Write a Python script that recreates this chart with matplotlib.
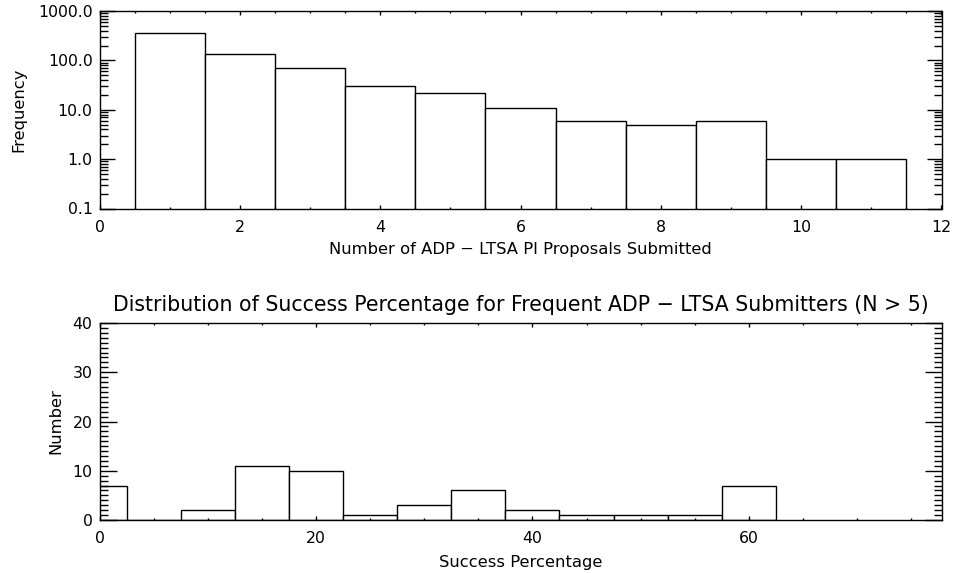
import numpy as np
import matplotlib
matplotlib.use("Agg")
import matplotlib.pyplot as plt
from matplotlib.ticker import MultipleLocator, LogLocator, FuncFormatter, NullFormatter

# ---- data ----
n_proposals = [1, 2, 3, 4, 5, 6, 7, 8, 9, 10, 11]
frequency = [365, 136, 70, 30, 22, 11, 6, 5, 6, 1, 1]

success_bins = [0, 5, 10, 15, 20, 25, 30, 35, 40, 45, 50, 55, 60]
success_counts = [7, 0, 2, 11, 10, 1, 3, 6, 2, 1, 1, 1, 7]

top_xlabel = "Number of ADP \u2212 LTSA PI Proposals Submitted"
top_ylabel = "Frequency"
bot_title = "Distribution of Success Percentage for Frequent ADP \u2212 LTSA Submitters (N > 5)"
bot_xlabel = "Success Percentage"
bot_ylabel = "Number"

plt.rcParams['font.family'] = ['DejaVu Sans']
FS = 11.3
LFS = 11.8
TFS = 14.8
fig = plt.figure(figsize=(9.56, 5.73), dpi=100)
fig.patch.set_facecolor('white')

W, H = 956, 573
def rect(l, t, r, b):
    return [l / W, 1 - b / H, (r - l) / W, (b - t) / H]

ax1 = fig.add_axes(rect(99.5, 11, 941.5, 208.5))
ax2 = fig.add_axes(rect(99.5, 323, 941.5, 520))

for ax in (ax1, ax2):
    for s in ax.spines.values():
        s.set_linewidth(1.0)
        s.set_color('black')

# top panel
ax1.bar(n_proposals, frequency, width=1.0, align='center', facecolor='white',
        edgecolor='black', linewidth=1.0)
ax1.set_yscale('log')
ax1.set_ylim(0.1, 1000)
ax1.set_xlim(0, 12)
ax1.xaxis.set_major_locator(MultipleLocator(2))
ax1.xaxis.set_minor_locator(MultipleLocator(0.5))
ax1.yaxis.set_major_locator(LogLocator(base=10, numticks=10))
ax1.yaxis.set_minor_locator(LogLocator(base=10, subs=np.arange(2, 10), numticks=20))
ax1.yaxis.set_major_formatter(FuncFormatter(lambda v, p: "%.1f" % v))
ax1.yaxis.set_minor_formatter(NullFormatter())
ax1.tick_params(axis='x', which='major', direction='in', length=3, width=1,
                top=True, bottom=True, labelsize=FS, pad=8)
ax1.tick_params(axis='x', which='minor', direction='in', length=1.5, width=1,
                top=True, bottom=True)
ax1.tick_params(axis='y', which='major', direction='in', length=11, width=1,
                left=True, right=True, labelsize=FS, pad=5)
ax1.tick_params(axis='y', which='minor', direction='in', length=5.5, width=1,
                left=True, right=True)
ax1.set_xlabel(top_xlabel, fontsize=LFS, labelpad=5.5)
ax1.set_ylabel(top_ylabel, fontsize=LFS, labelpad=8)

# bottom panel
ax2.bar(success_bins, success_counts, width=5.0, align='center', facecolor='white',
        edgecolor='black', linewidth=1.0)
ax2.set_xlim(0, 77.8)
ax2.set_ylim(0, 40)
ax2.xaxis.set_major_locator(MultipleLocator(20))
ax2.xaxis.set_minor_locator(MultipleLocator(5))
ax2.yaxis.set_major_locator(MultipleLocator(10))
ax2.yaxis.set_minor_locator(MultipleLocator(1))
ax2.tick_params(axis='x', which='major', direction='in', length=3, width=1,
                top=True, bottom=True, labelsize=FS, pad=8)
ax2.tick_params(axis='x', which='minor', direction='in', length=1.5, width=1,
                top=True, bottom=True)
ax2.tick_params(axis='y', which='major', direction='in', length=12, width=1,
                left=True, right=True, labelsize=FS, pad=5)
ax2.tick_params(axis='y', which='minor', direction='in', length=6, width=1,
                left=True, right=True)
ax2.set_xlabel(bot_xlabel, fontsize=LFS, labelpad=6.5)
ax2.set_ylabel(bot_ylabel, fontsize=LFS, labelpad=6.5)
ax2.set_title(bot_title, fontsize=TFS, pad=8.5)

fig.savefig("out.png", dpi=100, facecolor='white')
